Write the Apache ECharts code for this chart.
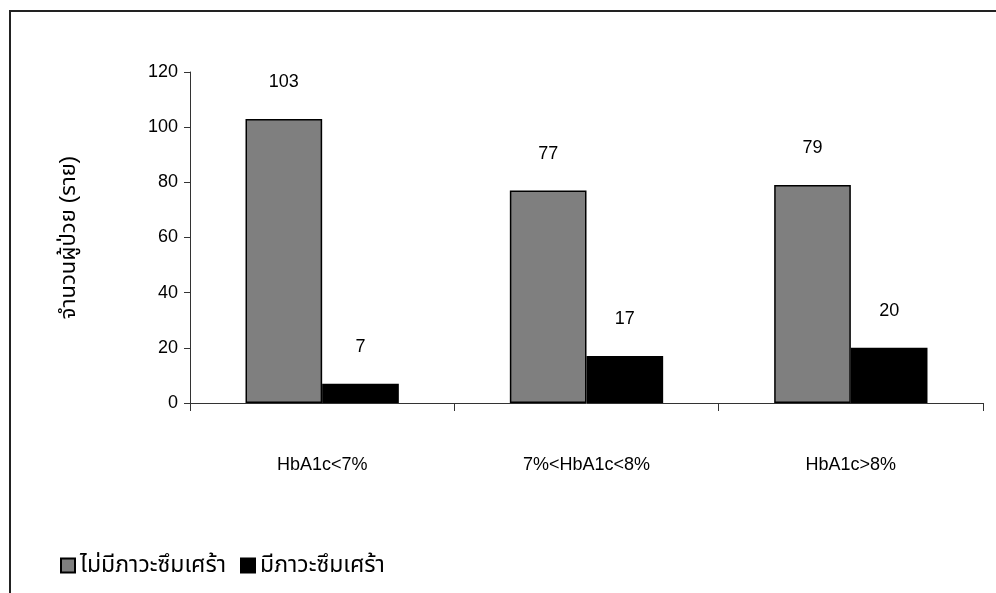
<!DOCTYPE html>
<html>
<head>
<meta charset="utf-8">
<style>
  html, body { margin: 0; padding: 0; background: #ffffff; }
  #chart { width: 996px; height: 593px; }
</style>
<script src="https://cdn.jsdelivr.net/npm/echarts@6/dist/echarts.min.js"></script>
</head>
<body>
<div id="chart"></div>
<script>
// HbA1c groups and patient counts by depression status
const categories = ['HbA1c<7%', '7%<HbA1c<8%', 'HbA1c>8%'];
const seriesNames = ['ไม่มีภาวะซึมเศร้า', 'มีภาวะซึมเศร้า'];
const noDepression = [103, 77, 79];
const withDepression = [7, 17, 20];
const yAxisTitle = 'จำนวนผู้ป่วย (ราย)';

const FONT = '"Liberation Sans", Arial, "Noto Sans Thai", "Noto Sans", sans-serif';

const chart = echarts.init(document.getElementById('chart'), null, { renderer: 'canvas' });

const labelStyle = {
  show: true,
  position: 'top',
  distance: 28,
  color: '#000',
  fontSize: 18,
  fontFamily: FONT
};

chart.setOption({
  backgroundColor: '#ffffff',
  animation: false,
  graphic: [{
    type: 'rect',
    shape: { x: 10, y: 11, width: 1100, height: 700 },
    style: { fill: 'none', stroke: '#222', lineWidth: 2 },
    silent: true
  }],
  grid: { left: 190, right: 13, top: 72, bottom: 190 },
  legend: {
    left: 55,
    top: 549,
    itemWidth: 14,
    itemHeight: 14,
    itemGap: 14,
    icon: 'rect',
    textStyle: { fontSize: 23, color: '#000', fontFamily: FONT },
    data: seriesNames
  },
  xAxis: {
    type: 'category',
    data: categories,
    axisLine: { lineStyle: { color: '#333', width: 1 } },
    axisTick: { show: true, length: 8, lineStyle: { color: '#333' } },
    axisLabel: { margin: 53, fontSize: 18, color: '#000', fontFamily: FONT }
  },
  yAxis: {
    type: 'value',
    min: 0,
    max: 120,
    interval: 20,
    name: yAxisTitle,
    nameLocation: 'middle',
    nameGap: 110,
    nameRotate: 90,
    nameTextStyle: { fontSize: 22, color: '#000', fontFamily: FONT },
    axisLine: { show: true, lineStyle: { color: '#333', width: 1 } },
    axisTick: { show: true, length: 6, lineStyle: { color: '#333' } },
    axisLabel: { margin: 12, fontSize: 18, color: '#000', fontFamily: FONT },
    splitLine: { show: false }
  },
  series: [
    {
      name: seriesNames[0],
      type: 'bar',
      data: noDepression,
      barGap: '0%',
      barCategoryGap: '42%',
      itemStyle: { color: '#7f7f7f', borderColor: '#000', borderWidth: 1.5 },
      label: labelStyle
    },
    {
      name: seriesNames[1],
      type: 'bar',
      data: withDepression,
      itemStyle: { color: '#000', borderColor: '#000', borderWidth: 1.5 },
      label: labelStyle
    }
  ]
});
</script>
</body>
</html>
